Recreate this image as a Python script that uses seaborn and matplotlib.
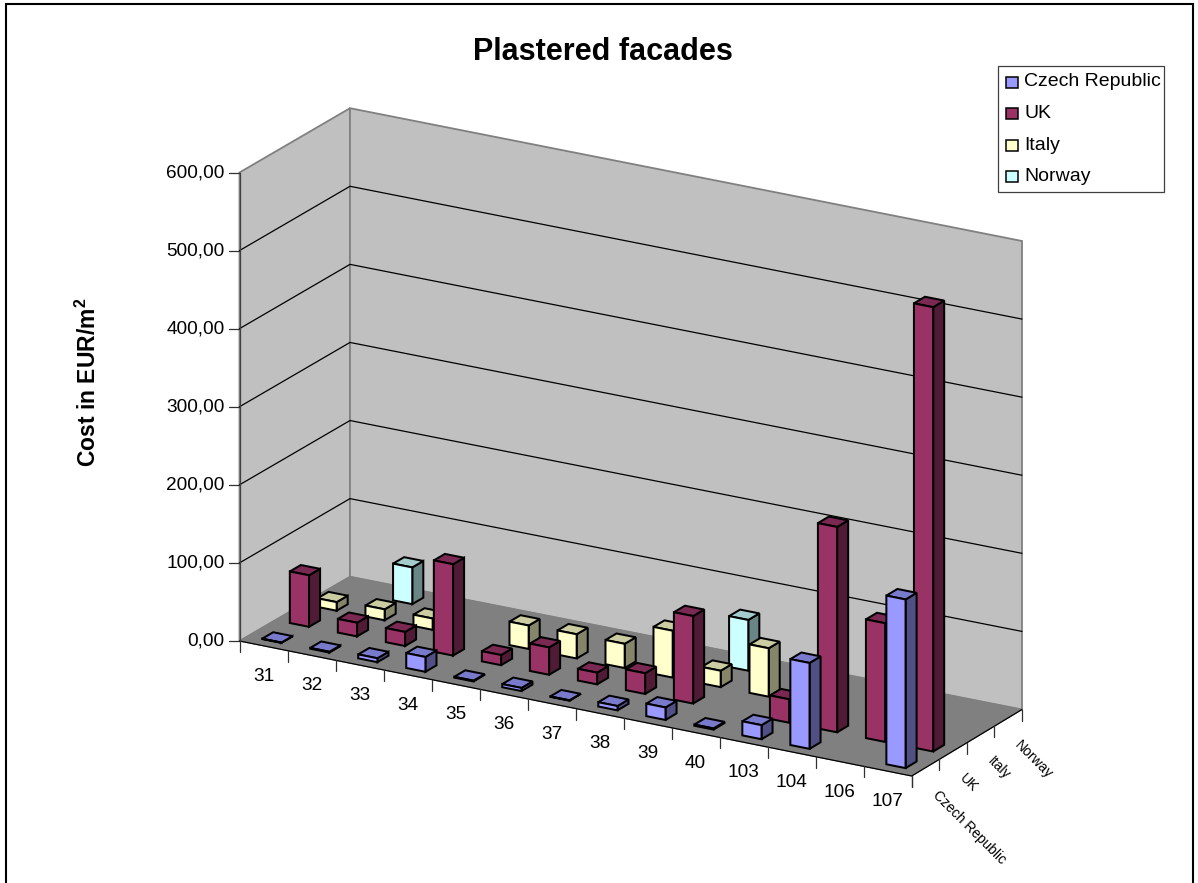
import numpy as np
import matplotlib
matplotlib.use("Agg")
import matplotlib.pyplot as plt
from matplotlib.patches import Polygon, Rectangle
import seaborn as sns

# Unit costs per building element and country (EUR/m2); nan = no bar
categories = ["31", "32", "33", "34", "35", "36", "37", "38", "39", "40",
              "103", "104", "106", "107"]
series_names = ["Czech Republic", "UK", "Italy", "Norway"]
nan = float("nan")
czech = [0.5, 1, 5, 19, 1, 4, 0.5, 5.5, 16, 1.5, 18, 110, nan, 216]
uk = [66, 17.5, 18, 117, 13, 35, 15, 26.5, 112, nan, 30, 263, 152, 569]
italy = [11, 14, 14.5, nan, 30, 31, 31, 60, 21, 62, nan, nan, nan, nan]
norway = [nan, 47, nan, nan, nan, nan, nan, nan, 65, nan, nan, nan, nan, nan]
series_values = [czech, uk, italy, norway]
y_ticks = [0, 100, 200, 300, 400, 500, 600]
y_labels = ["0,00", "100,00", "200,00", "300,00", "400,00", "500,00", "600,00"]

sns.set_theme(style="white")
plt.rcParams["font.family"] = ["Liberation Sans", "DejaVu Sans"]
plt.rcParams["mathtext.fontset"] = "custom"
plt.rcParams["mathtext.bf"] = "Liberation Sans:bold"
palette = sns.color_palette(["#9999FF", "#993366", "#FFFFCC", "#CCFFFF"])

# Box corners of the oblique view, in pixels, and vertical scale
FRONT_L, FRONT_R = np.array([239.5, 641.0]), np.array([911.7, 776.0])
BACK_L, BACK_R = np.array([350.0, 576.7]), np.array([1022.0, 709.5])
Y_SCALE = 468.5 / 600
N_COL, N_SER = len(categories), len(series_names)
BAR = 0.4


def proj(u, v, z=0.0):
    """Map category u, series depth v and value z to the page."""
    a, b = u / N_COL, v / N_SER
    p = (1 - b) * ((1 - a) * FRONT_L + a * FRONT_R) + b * ((1 - a) * BACK_L + a * BACK_R)
    return p - np.array([0, z * Y_SCALE])


fig = plt.figure(figsize=(11.98, 8.83), dpi=100, facecolor="white")
ax = fig.add_axes([0, 0, 1, 1])
ax.set_xlim(0, 1198)
ax.set_ylim(883, 0)
ax.axis("off")

# Outer chart frame, open at the bottom
ax.plot([5.5, 5.5, 1192.5, 1192.5], [883, 4, 4, 883], color="black", lw=1.5,
        solid_joinstyle="miter", zorder=1)


def face(points, color, edge="none", lw=0.0, z=2):
    ax.add_patch(Polygon(points, closed=True, facecolor=color, edgecolor=edge,
                         lw=lw, joinstyle="miter", zorder=z))


top = y_ticks[-1]
wall_edge = "#808080"
face([proj(0, 0), proj(0, N_SER), proj(0, N_SER, top), proj(0, 0, top)], "#C0C0C0", wall_edge, 1.3)
face([proj(0, N_SER), proj(N_COL, N_SER), proj(N_COL, N_SER, top), proj(0, N_SER, top)],
     "#C0C0C0", wall_edge, 1.3)
face([proj(0, 0), proj(N_COL, 0), proj(N_COL, N_SER), proj(0, N_SER)], "#808080", wall_edge, 0.8)

# Gridlines across both walls and the value axis ticks
for tick, label in zip(y_ticks, y_labels):
    pts = np.array([proj(0, 0, tick), proj(0, N_SER, tick), proj(N_COL, N_SER, tick)])
    if tick > 0 and tick < top:
        ax.plot(pts[:, 0], pts[:, 1], color="black", lw=0.9, zorder=3)
    start = proj(0, 0, tick)
    ax.plot([start[0] - 11, start[0]], [start[1], start[1]], color="#303030", lw=0.9, zorder=3)
    ax.text(start[0] - 15, start[1] + 0.5, label, ha="right", va="center", fontsize=13.7,
            color="black", zorder=6)

# Floor edges with category and series ticks
p0, p1, p2 = proj(0, 0), proj(N_COL, 0), proj(N_COL, N_SER)
ax.plot([p0[0], p1[0], p2[0]], [p0[1], p1[1], p2[1]], color="black", lw=0.9, zorder=3)
ax.plot([p0[0], p0[0]], [p0[1], proj(0, 0, top)[1]], color="#404040", lw=0.9, zorder=3)
for i in range(N_COL + 1):
    p = proj(i, 0)
    ax.plot([p[0], p[0]], [p[1], p[1] + 11], color="#303030", lw=0.9, zorder=3)
for j in range(N_SER + 1):
    p = proj(N_COL, j)
    ax.plot([p[0], p[0]], [p[1], p[1] + 11], color="#303030", lw=0.9, zorder=3)
for i, name in enumerate(categories):
    p = proj(i + 0.5, 0)
    ax.text(p[0], p[1] + 30.5, name, ha="center", va="center", fontsize=13.7, color="black", zorder=6)
for j, name in enumerate(series_names):
    p = proj(N_COL, j + 0.5)
    ax.text(p[0] + 9, p[1] + 25, name, ha="left", va="center", rotation=-45,
            rotation_mode="anchor", fontsize=10.0, color="black", zorder=6)


def draw_bar(col, ser, value, color):
    lo_u, hi_u = col + 0.5 - BAR / 2, col + 0.5 + BAR / 2
    lo_v, hi_v = ser + 0.5 - BAR / 2, ser + 0.5 + BAR / 2
    base = np.array(color)
    kw = dict(edge="black", lw=1.45, z=4)
    face([proj(hi_u, lo_v), proj(hi_u, hi_v), proj(hi_u, hi_v, value), proj(hi_u, lo_v, value)],
         tuple(base * 0.52), **kw)
    face([proj(lo_u, lo_v, value), proj(hi_u, lo_v, value), proj(hi_u, hi_v, value), proj(lo_u, hi_v, value)],
         tuple(base * 0.8), **kw)
    face([proj(lo_u, lo_v), proj(hi_u, lo_v), proj(hi_u, lo_v, value), proj(lo_u, lo_v, value)],
         tuple(base), **kw)


# Painted back row first so nearer bars cover the ones behind them
for ser in reversed(range(N_SER)):
    for col, value in enumerate(series_values[ser]):
        if not np.isnan(value):
            draw_bar(col, ser, value, palette[ser])

ax.text(603, 52, "Plastered facades", ha="center", va="center", fontsize=22,
        fontweight="bold", color="black", zorder=6)
ax.text(88, 382, r"Cost in EUR/m$^{\mathbf{2}}$", ha="center", va="center", rotation=90,
        fontsize=16.5, fontweight="bold", color="black", zorder=6)

# Legend panel
ax.add_patch(Rectangle((998, 65.5), 166, 126, facecolor="white", edgecolor="#404040", lw=0.9, zorder=5))
for name, color, row in zip(series_names, palette, range(N_SER)):
    y = 82 + row * 31.5
    ax.add_patch(Rectangle((1006, y - 5.5), 12, 11, facecolor=color, edgecolor="black", lw=1.1, zorder=6))
    ax.text(1024, y, name, ha="left", va="center", fontsize=14, color="black", zorder=6)

fig.savefig("out.png", dpi=100)
